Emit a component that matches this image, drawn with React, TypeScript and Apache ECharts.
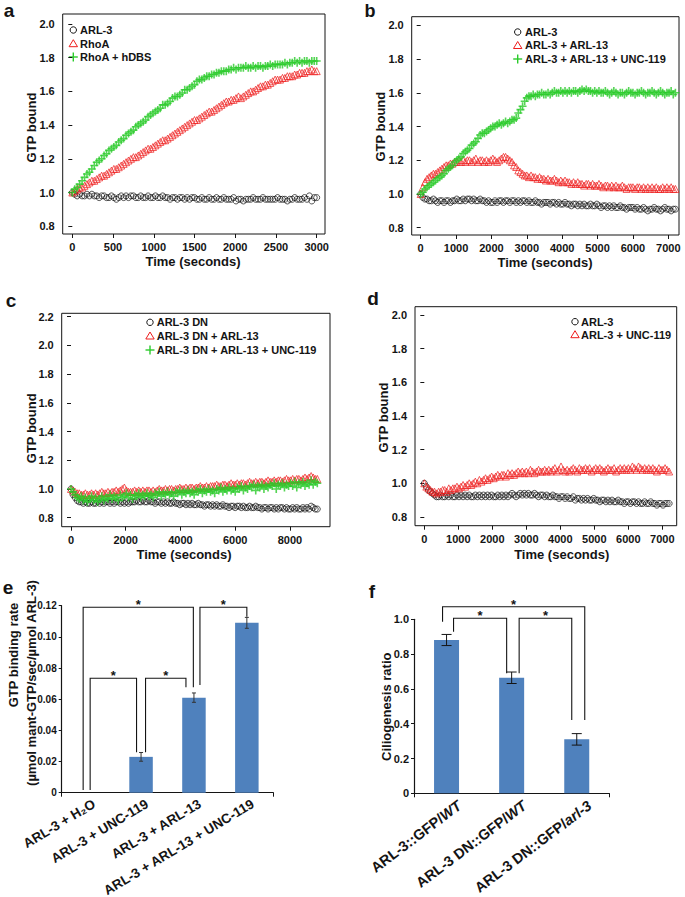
import React, { useEffect, useRef } from 'react';
import * as echarts from 'echarts';

const FONT = '"Liberation Sans", Arial, Helvetica, sans-serif';
const INK = '#141414';
const RED = '#ee1d1d';
const GREEN = '#2bcb2b';
const BAR = '#4f81bd';

// ---------------- panel a ----------------
const aStep = 30; // seconds between readings
const aNames = ['ARL-3', 'RhoA', 'RhoA + hDBS'];
const aArl3 = [
  1.00, 0.99, 0.98, 0.99, 0.98, 0.98, 0.99, 0.98, 0.99, 0.98,
  0.98, 0.97, 0.98, 0.98, 0.97, 0.97, 0.98, 0.97, 0.96, 0.97,
  0.98, 0.97, 0.98, 0.97, 0.98, 0.98, 0.97, 0.97, 0.98, 0.97,
  0.97, 0.98, 0.97, 0.97, 0.98, 0.97, 0.97, 0.98, 0.97, 0.97,
  0.96, 0.97, 0.97, 0.96, 0.97, 0.97, 0.96, 0.97, 0.96, 0.97,
  0.97, 0.96, 0.96, 0.97, 0.96, 0.96, 0.97, 0.96, 0.96, 0.97,
  0.96, 0.96, 0.97, 0.96, 0.96, 0.96, 0.97, 0.95, 0.96, 0.96,
  0.95, 0.96, 0.96, 0.96, 0.97, 0.96, 0.96, 0.96, 0.97, 0.96,
  0.96, 0.96, 0.96, 0.96, 0.97, 0.96, 0.96, 0.96, 0.95, 0.96,
  0.96, 0.97, 0.96, 0.96, 0.96, 0.97, 0.96, 0.98, 0.95, 0.97,
  0.97,
];
const aRhoA = [
  1.00, 1.01, 1.02, 1.03, 1.03, 1.04, 1.05, 1.06, 1.07, 1.07,
  1.08, 1.09, 1.10, 1.10, 1.11, 1.12, 1.13, 1.14, 1.14, 1.15,
  1.16, 1.17, 1.18, 1.19, 1.20, 1.21, 1.21, 1.22, 1.23, 1.24,
  1.25, 1.26, 1.26, 1.27, 1.28, 1.29, 1.30, 1.31, 1.31, 1.32,
  1.33, 1.34, 1.35, 1.36, 1.37, 1.38, 1.39, 1.40, 1.41, 1.42,
  1.43, 1.43, 1.44, 1.45, 1.46, 1.47, 1.48, 1.48, 1.49, 1.50,
  1.51, 1.52, 1.53, 1.54, 1.54, 1.55, 1.55, 1.56, 1.57, 1.56,
  1.57, 1.58, 1.59, 1.60, 1.60, 1.61, 1.62, 1.63, 1.63, 1.64,
  1.64, 1.65, 1.66, 1.67, 1.67, 1.67, 1.68, 1.68, 1.69, 1.69,
  1.69, 1.70, 1.70, 1.71, 1.71, 1.71, 1.72, 1.72, 1.73, 1.72,
  1.72,
];
const aRhoAhDBS = [
  1.00, 1.02, 1.03, 1.05, 1.07, 1.09, 1.11, 1.12, 1.14, 1.16,
  1.18, 1.19, 1.20, 1.22, 1.23, 1.25, 1.26, 1.27, 1.28, 1.30,
  1.31, 1.32, 1.34, 1.35, 1.36, 1.37, 1.39, 1.40, 1.41, 1.42,
  1.43, 1.45, 1.46, 1.47, 1.48, 1.49, 1.50, 1.52, 1.52, 1.53,
  1.54, 1.56, 1.57, 1.57, 1.58, 1.59, 1.61, 1.61, 1.62, 1.63,
  1.64, 1.66, 1.67, 1.67, 1.68, 1.69, 1.69, 1.70, 1.70, 1.71,
  1.71, 1.72, 1.72, 1.72, 1.73, 1.73, 1.74, 1.73, 1.74, 1.74,
  1.74, 1.75, 1.74, 1.74, 1.75, 1.74, 1.75, 1.75, 1.74, 1.75,
  1.75, 1.76, 1.75, 1.76, 1.76, 1.76, 1.76, 1.77, 1.76, 1.77,
  1.77, 1.78, 1.77, 1.78, 1.77, 1.78, 1.78, 1.77, 1.78, 1.78,
  1.78,
];
const aXTicks = [0, 500, 1000, 1500, 2000, 2500, 3000];
const aYTicks = [0.8, 1.0, 1.2, 1.4, 1.6, 1.8, 2.0];

// ---------------- panel b ----------------
const bStep = 60;
const bNames = ['ARL-3', 'ARL-3 + ARL-13', 'ARL-3 + ARL-13 + UNC-119'];
const bArl3 = [
  1.00, 0.98, 0.97, 0.97, 0.96, 0.96, 0.97, 0.96, 0.95, 0.96,
  0.96, 0.95, 0.96, 0.96, 0.95, 0.96, 0.96, 0.97, 0.96, 0.96,
  0.97, 0.96, 0.97, 0.97, 0.96, 0.97, 0.96, 0.96, 0.97, 0.96,
  0.96, 0.95, 0.96, 0.95, 0.95, 0.96, 0.95, 0.96, 0.96, 0.95,
  0.96, 0.96, 0.95, 0.96, 0.96, 0.95, 0.96, 0.95, 0.96, 0.96,
  0.95, 0.96, 0.95, 0.95, 0.96, 0.95, 0.95, 0.94, 0.95, 0.95,
  0.95, 0.94, 0.95, 0.95, 0.94, 0.95, 0.94, 0.94, 0.95, 0.94,
  0.94, 0.93, 0.94, 0.94, 0.93, 0.94, 0.93, 0.94, 0.93, 0.93,
  0.94, 0.93, 0.93, 0.94, 0.93, 0.92, 0.93, 0.93, 0.92, 0.93,
  0.92, 0.93, 0.92, 0.92, 0.93, 0.92, 0.92, 0.91, 0.92, 0.92,
  0.92, 0.91, 0.92, 0.91, 0.91, 0.92, 0.91, 0.90, 0.91, 0.91,
  0.92, 0.91, 0.91, 0.90, 0.91, 0.92, 0.91, 0.91, 0.90, 0.91,
  0.91,
];
const bArl3Arl13 = [
  1.00, 1.04, 1.07, 1.09, 1.10, 1.11, 1.12, 1.12, 1.13, 1.14,
  1.15, 1.16, 1.17, 1.17, 1.18, 1.18, 1.19, 1.19, 1.20, 1.19,
  1.20, 1.19, 1.20, 1.20, 1.19, 1.20, 1.21, 1.19, 1.20, 1.20,
  1.19, 1.20, 1.19, 1.20, 1.21, 1.20, 1.19, 1.20, 1.21, 1.22,
  1.22, 1.21, 1.20, 1.19, 1.17, 1.16, 1.14, 1.13, 1.12, 1.11,
  1.11, 1.10, 1.11, 1.10, 1.10, 1.09, 1.10, 1.09, 1.09, 1.08,
  1.09, 1.08, 1.08, 1.09, 1.08, 1.07, 1.08, 1.07, 1.08, 1.07,
  1.07, 1.06, 1.07, 1.06, 1.07, 1.06, 1.06, 1.05, 1.06, 1.06,
  1.05, 1.06, 1.05, 1.05, 1.06, 1.05, 1.04, 1.05, 1.05, 1.04,
  1.05, 1.04, 1.05, 1.04, 1.04, 1.05, 1.04, 1.03, 1.04, 1.04,
  1.04, 1.03, 1.04, 1.04, 1.03, 1.04, 1.03, 1.04, 1.03, 1.04,
  1.03, 1.04, 1.03, 1.03, 1.04, 1.03, 1.04, 1.03, 1.04, 1.03,
  1.03,
];
const bArl3Arl13Unc119 = [
  1.00, 1.01, 1.03, 1.04, 1.05, 1.06, 1.07, 1.08, 1.09, 1.10,
  1.11, 1.12, 1.14, 1.15, 1.16, 1.17, 1.19, 1.20, 1.21, 1.22,
  1.24, 1.25, 1.26, 1.27, 1.29, 1.30, 1.31, 1.33, 1.35, 1.36,
  1.36, 1.37, 1.38, 1.39, 1.40, 1.40, 1.41, 1.42, 1.41, 1.42,
  1.43, 1.42, 1.43, 1.44, 1.44, 1.45, 1.48, 1.50, 1.52, 1.55,
  1.57, 1.58, 1.58, 1.59, 1.58, 1.59, 1.59, 1.60, 1.59, 1.59,
  1.60, 1.59, 1.60, 1.61, 1.60, 1.60, 1.61, 1.60, 1.61, 1.60,
  1.61, 1.60, 1.61, 1.61, 1.60, 1.61, 1.62, 1.61, 1.62, 1.61,
  1.61, 1.60, 1.61, 1.60, 1.61, 1.60, 1.60, 1.61, 1.60, 1.59,
  1.60, 1.61, 1.60, 1.59, 1.60, 1.60, 1.59, 1.60, 1.61, 1.60,
  1.60, 1.59, 1.60, 1.60, 1.61, 1.60, 1.59, 1.60, 1.60, 1.61,
  1.60, 1.59, 1.60, 1.61, 1.60, 1.59, 1.60, 1.60, 1.61, 1.59,
  1.60,
];
const bXTicks = [0, 1000, 2000, 3000, 4000, 5000, 6000, 7000];
const bYTicks = [0.8, 1.0, 1.2, 1.4, 1.6, 1.8, 2.0];

// ---------------- panel c ----------------
const cStep = 75;
const cNames = ['ARL-3 DN', 'ARL-3 DN + ARL-13', 'ARL-3 DN + ARL-13 + UNC-119'];
const cArl3Dn = [
  1.00, 0.96, 0.94, 0.92, 0.91, 0.91, 0.90, 0.91, 0.90, 0.90,
  0.91, 0.90, 0.90, 0.91, 0.90, 0.91, 0.90, 0.91, 0.91, 0.90,
  0.91, 0.90, 0.91, 0.91, 0.90, 0.91, 0.90, 0.91, 0.90, 0.91,
  0.91, 0.91, 0.92, 0.91, 0.91, 0.92, 0.91, 0.91, 0.92, 0.91,
  0.91, 0.90, 0.91, 0.91, 0.90, 0.91, 0.90, 0.91, 0.90, 0.90,
  0.91, 0.90, 0.90, 0.89, 0.90, 0.90, 0.89, 0.90, 0.89, 0.90,
  0.89, 0.89, 0.90, 0.89, 0.89, 0.88, 0.89, 0.89, 0.88, 0.89,
  0.88, 0.89, 0.88, 0.88, 0.89, 0.88, 0.88, 0.87, 0.88, 0.88,
  0.87, 0.88, 0.88, 0.87, 0.88, 0.87, 0.87, 0.88, 0.87, 0.87,
  0.88, 0.87, 0.87, 0.86, 0.87, 0.87, 0.86, 0.87, 0.87, 0.86,
  0.87, 0.86, 0.87, 0.87, 0.86, 0.87, 0.86, 0.86, 0.87, 0.86,
  0.87, 0.86, 0.86, 0.87, 0.86, 0.87, 0.86, 0.88, 0.87, 0.86,
  0.86,
];
const cArl3DnArl13 = [
  1.00, 0.99, 0.98, 0.97, 0.97, 0.96, 0.96, 0.97, 0.96, 0.96,
  0.97, 0.96, 0.97, 0.96, 0.97, 0.98, 0.97, 0.97, 0.98, 0.97,
  0.98, 0.98, 0.99, 0.98, 0.99, 1.00, 1.01, 0.99, 0.98, 0.98,
  0.98, 0.99, 0.98, 0.99, 0.98, 0.99, 0.98, 0.99, 0.99, 0.98,
  0.99, 0.98, 0.99, 1.00, 0.99, 0.99, 1.00, 0.99, 1.00, 1.00,
  0.99, 1.00, 1.00, 1.01, 1.00, 1.00, 1.01, 1.00, 1.01, 1.01,
  1.00, 1.01, 1.01, 1.02, 1.01, 1.01, 1.02, 1.01, 1.02, 1.02,
  1.02, 1.03, 1.02, 1.02, 1.03, 1.03, 1.02, 1.03, 1.04, 1.03,
  1.03, 1.04, 1.03, 1.04, 1.04, 1.03, 1.04, 1.05, 1.04, 1.04,
  1.05, 1.04, 1.05, 1.05, 1.04, 1.05, 1.06, 1.05, 1.05, 1.06,
  1.05, 1.06, 1.06, 1.05, 1.06, 1.07, 1.06, 1.06, 1.07, 1.06,
  1.07, 1.07, 1.06, 1.07, 1.08, 1.07, 1.08, 1.09, 1.08, 1.07,
  1.07,
];
const cArl3DnArl13Unc119 = [
  1.00, 0.98, 0.96, 0.94, 0.93, 0.95, 0.92, 0.94, 0.91, 0.93,
  0.95, 0.92, 0.94, 0.91, 0.93, 0.95, 0.92, 0.94, 0.93, 0.96,
  0.93, 0.95, 0.94, 0.92, 0.96, 0.94, 0.95, 0.97, 0.94, 0.96,
  0.93, 0.96, 0.95, 0.97, 0.94, 0.96, 0.95, 0.97, 0.95, 0.96,
  0.94, 0.97, 0.96, 0.98, 0.95, 0.97, 0.96, 0.98, 0.96, 0.97,
  0.95, 0.98, 0.97, 0.99, 0.96, 0.98, 0.97, 0.99, 0.97, 0.98,
  0.96, 0.99, 0.98, 1.00, 0.97, 0.99, 0.98, 1.00, 0.98, 0.99,
  0.97, 1.00, 0.99, 1.01, 0.98, 1.00, 0.99, 1.01, 0.99, 1.00,
  0.98, 1.01, 1.00, 1.02, 0.99, 1.01, 1.00, 1.02, 1.01, 1.03,
  0.99, 1.02, 1.01, 1.03, 1.00, 1.02, 1.01, 1.03, 1.02, 1.04,
  1.00, 1.03, 1.02, 1.04, 1.01, 1.03, 1.02, 1.04, 1.02, 1.05,
  1.01, 1.04, 1.03, 1.05, 1.02, 1.04, 1.03, 1.06, 1.03, 1.05,
  1.04,
];
const cXTicks = [0, 2000, 4000, 6000, 8000];
const cYTicks = [0.8, 1.0, 1.2, 1.4, 1.6, 1.8, 2.0, 2.2];

// ---------------- panel d ----------------
const dStep = 60;
const dNames = ['ARL-3', 'ARL-3 + UNC-119'];
const dArl3 = [
  1.00, 0.98, 0.96, 0.95, 0.94, 0.93, 0.92, 0.92, 0.93, 0.92,
  0.92, 0.93, 0.92, 0.93, 0.92, 0.92, 0.93, 0.92, 0.93, 0.92,
  0.93, 0.92, 0.93, 0.92, 0.92, 0.93, 0.92, 0.93, 0.92, 0.93,
  0.92, 0.93, 0.92, 0.93, 0.92, 0.92, 0.93, 0.92, 0.93, 0.92,
  0.93, 0.92, 0.93, 0.94, 0.93, 0.92, 0.93, 0.94, 0.93, 0.94,
  0.93, 0.94, 0.93, 0.93, 0.94, 0.93, 0.92, 0.93, 0.93, 0.92,
  0.93, 0.92, 0.92, 0.93, 0.92, 0.92, 0.91, 0.92, 0.92, 0.91,
  0.92, 0.91, 0.91, 0.92, 0.90, 0.91, 0.91, 0.90, 0.91, 0.90,
  0.91, 0.90, 0.90, 0.91, 0.90, 0.90, 0.89, 0.90, 0.90, 0.89,
  0.90, 0.89, 0.90, 0.89, 0.89, 0.90, 0.89, 0.89, 0.88, 0.89,
  0.89, 0.88, 0.89, 0.89, 0.88, 0.89, 0.88, 0.88, 0.89, 0.88,
  0.88, 0.89, 0.88, 0.88, 0.87, 0.88, 0.88, 0.87, 0.88, 0.88,
  0.88,
];
const dArl3Unc119 = [
  1.00, 0.98, 0.97, 0.96, 0.95, 0.95, 0.94, 0.95, 0.95, 0.96,
  0.96, 0.95, 0.97, 0.96, 0.97, 0.97, 0.98, 0.97, 0.98, 0.99,
  0.98, 0.99, 1.00, 0.99, 1.00, 1.01, 1.00, 1.02, 1.01, 1.02,
  1.03, 1.02, 1.03, 1.04, 1.03, 1.04, 1.05, 1.04, 1.05, 1.05,
  1.04, 1.06, 1.05, 1.06, 1.05, 1.06, 1.07, 1.06, 1.07, 1.06,
  1.07, 1.06, 1.08, 1.07, 1.06, 1.07, 1.08, 1.07, 1.07, 1.08,
  1.07, 1.08, 1.07, 1.08, 1.09, 1.07, 1.08, 1.10, 1.08, 1.07,
  1.08, 1.07, 1.08, 1.09, 1.08, 1.07, 1.09, 1.08, 1.08, 1.09,
  1.08, 1.09, 1.07, 1.08, 1.09, 1.08, 1.09, 1.08, 1.07, 1.08,
  1.09, 1.08, 1.08, 1.09, 1.07, 1.08, 1.09, 1.08, 1.09, 1.08,
  1.09, 1.08, 1.10, 1.09, 1.08, 1.10, 1.09, 1.08, 1.09, 1.08,
  1.09, 1.08, 1.09, 1.08, 1.07, 1.09, 1.08, 1.08, 1.09, 1.08,
  1.07,
];
const dXTicks = [0, 1000, 2000, 3000, 4000, 5000, 6000, 7000];
const dYTicks = [0.8, 1.0, 1.2, 1.4, 1.6, 1.8, 2.0];

// ---------------- panel e ----------------
const eCategories = ['ARL-3 + H₂O', 'ARL-3 + UNC-119', 'ARL-3 + ARL-13', 'ARL-3 + ARL-13 + UNC-119'];
const eValues = [0, 0.023, 0.061, 0.109];
const eErrors = [0, 0.0028, 0.003, 0.0035];
// significance brackets: [from category, to category, bracket level, end of left leg, end of right leg]
const eBrackets = [
  [0, 2, 0.119, 0.0017, 0.0676],
  [2, 3, 0.119, 0.0691, 0.1129],
  [0, 1, 0.0734, 0.0017, 0.0259],
  [1, 2, 0.0734, 0.0259, 0.0676],
];
const eYMax = 0.12;

// ---------------- panel f ----------------
const fCategories = ['ARL-3::GFP/WT', 'ARL-3 DN::GFP/WT', 'ARL-3 DN::GFP/arl-3'];
const fValues = [0.881, 0.664, 0.31];
const fErrors = [0.032, 0.033, 0.033];
const fBrackets = [
  [0, 2, 1.072, 0.986, 0.421],
  [0, 1, 1.006, 0.929, 0.69],
  [1, 2, 1.006, 0.69, 0.421],
];

// ---------------- layout / style (pixels) ----------------
const eLegOffsets = [[-5, -0.6], [6, 0], [2, -4.5], [4.5, -8]];
const fLegOffsets = [[-4, 8], [7, -5], [7.5, -5]];

const toXY = (vals: number[], step: number) => vals.map((v, i) => [i * step, v]);

const circleSeries = (name: string, data: number[][], idx: number) => ({
  type: 'scatter', name, xAxisIndex: idx, yAxisIndex: idx, data, silent: true,
  symbol: 'circle', symbolSize: 6,
  itemStyle: { color: 'rgba(0,0,0,0)', borderColor: INK, borderWidth: 0.9 },
});
const triSeries = (name: string, data: number[][], idx: number) => ({
  type: 'scatter', name, xAxisIndex: idx, yAxisIndex: idx, data, silent: true,
  symbol: 'triangle', symbolSize: 7,
  itemStyle: { color: 'rgba(0,0,0,0)', borderColor: RED, borderWidth: 0.9 },
});
const plusSeries = (name: string, data: number[][], idx: number) => ({
  type: 'scatter', name, xAxisIndex: idx, yAxisIndex: idx, data, silent: true,
  symbol: 'path://M4,0H6V4H10V6H6V10H4V6H0V4H4Z', symbolSize: 8,
  itemStyle: { color: GREEN },
});

const tickLabelStyle = { fontSize: 11, fontWeight: 'bold', color: INK, fontFamily: FONT };

const lineX = (gridIndex: number, min: number, max: number, ticks: number[]) => ({
  type: 'value', gridIndex, min, max,
  axisLine: { show: false },
  axisTick: { show: true, customValues: ticks, length: 4, lineStyle: { color: INK, width: 1 } },
  axisLabel: { show: true, customValues: ticks, margin: 7.5, formatter: (v: number) => String(v), ...tickLabelStyle },
  splitLine: { show: false },
});
const lineY = (gridIndex: number, min: number, max: number, ticks: number[]) => ({
  type: 'value', gridIndex, min, max,
  axisLine: { show: false },
  axisTick: { show: true, customValues: ticks, length: 4, lineStyle: { color: INK, width: 1 } },
  axisLabel: { show: true, customValues: ticks, margin: 8, formatter: (v: number) => v.toFixed(1), ...tickLabelStyle },
  splitLine: { show: false },
});

const errorSeries = (idx: number, vals: number[], errs: number[], cap: number, color: string) => ({
  type: 'custom', xAxisIndex: idx, yAxisIndex: idx, silent: true, clip: false, z: 5,
  encode: { x: 0, y: 1 },
  data: vals.map((v, i) => [i, v, errs[i]]),
  renderItem: (_p: any, api: any) => {
    const i = api.value(0), v = api.value(1), e = api.value(2);
    if (!e) return null;
    const hi = api.coord([i, v + e]);
    const lo = api.coord([i, v - e]);
    const st = { stroke: color, lineWidth: 1 };
    return {
      type: 'group', children: [
        { type: 'line', shape: { x1: hi[0], y1: hi[1], x2: lo[0], y2: lo[1] }, style: st },
        { type: 'line', shape: { x1: hi[0] - cap, y1: hi[1], x2: hi[0] + cap, y2: hi[1] }, style: st },
        { type: 'line', shape: { x1: lo[0] - cap, y1: lo[1], x2: lo[0] + cap, y2: lo[1] }, style: st },
      ],
    };
  },
});

const bracketSeries = (idx: number, brackets: number[][], offsets: number[][]) => ({
  type: 'custom', xAxisIndex: idx, yAxisIndex: idx, silent: true, clip: false, z: 6,
  encode: { x: 0, y: 2 },
  data: brackets,
  renderItem: (p: any, api: any) => {
    const off = offsets[p.dataIndex];
    const from = api.value(0), to = api.value(1), top = api.value(2), e1 = api.value(3), e2 = api.value(4);
    const t1 = api.coord([from, top]);
    const b1 = api.coord([from, e1]);
    const t2 = api.coord([to, top]);
    const b2 = api.coord([to, e2]);
    const x1 = t1[0] + off[0];
    const x2 = t2[0] + off[1];
    return {
      type: 'group', children: [
        { type: 'polyline', shape: { points: [[x1, b1[1]], [x1, t1[1]], [x2, t2[1]], [x2, b2[1]]] }, style: { stroke: INK, lineWidth: 1.1, fill: null } },
        { type: 'text', x: (x1 + x2) / 2, y: t1[1] - 2.5, style: { text: '*', align: 'center', verticalAlign: 'middle', font: `bold 13px ${FONT}`, fill: INK } },
      ],
    };
  },
});

// rotated category labels, placed at each category through the axis scale
const catLabelSeries = (idx: number, cats: string[], fmt: (s: string) => string, rich: any, size: number, deg: number, dx: number, dy: number) => ({
  type: 'custom', xAxisIndex: idx, yAxisIndex: idx, silent: true, clip: false, z: 7,
  encode: { x: 0, y: 1 },
  data: cats.map((_c, i) => [i, 0]),
  renderItem: (p: any, api: any) => {
    const pt = api.coord([api.value(0), 0]);
    return {
      type: 'text', x: pt[0] + dx, y: pt[1] + dy, rotation: (deg * Math.PI) / 180,
      style: { text: fmt(cats[p.dataIndex]), rich, font: `bold ${size}px ${FONT}`, fill: INK, align: 'right', verticalAlign: 'middle' },
    };
  },
});

const txt = (x: number, y: number, text: string, size: number, rot = 0, align = 'center') => ({
  type: 'text', x, y, rotation: rot, silent: true,
  style: { text, font: `bold ${size}px ${FONT}`, fill: INK, align, verticalAlign: 'middle' },
});
const mkCircle = (x: number, y: number) => ({ type: 'circle', shape: { cx: x, cy: y, r: 3.2 }, style: { fill: 'none', stroke: INK, lineWidth: 1 } });
const mkTri = (x: number, y: number) => ({ type: 'polygon', shape: { points: [[x, y - 3.8], [x + 4.2, y + 3.2], [x - 4.2, y + 3.2]] }, style: { fill: 'none', stroke: RED, lineWidth: 1 } });
const mkPlus = (x: number, y: number) => ({
  type: 'group', children: [
    { type: 'line', shape: { x1: x - 4.5, y1: y, x2: x + 4.5, y2: y }, style: { stroke: GREEN, lineWidth: 1.4 } },
    { type: 'line', shape: { x1: x, y1: y - 4.5, x2: x, y2: y + 4.5 }, style: { stroke: GREEN, lineWidth: 1.4 } },
  ],
});
const legend = (names: string[], mx: number, tx: number, ys: number[]) => {
  const makers = [mkCircle, mkTri, mkPlus];
  const out: any[] = [];
  names.forEach((n, i) => {
    out.push(makers[i](mx, ys[i]));
    out.push(txt(tx, ys[i], n, 11, 0, 'left'));
  });
  return out;
};

function buildOption() {
  const frame = { show: true, borderColor: INK, borderWidth: 1, backgroundColor: 'transparent', containLabel: false, outerBoundsMode: 'none' };
  const plain = { show: false, containLabel: false, outerBoundsMode: 'none' };
  const grid = [
    { ...frame, left: 62.7, top: 14, width: 262.3, height: 220 },
    { ...frame, left: 411.7, top: 16.7, width: 267.3, height: 218.3 },
    { ...frame, left: 61.7, top: 313.3, width: 268.3, height: 213.4 },
    { ...frame, left: 415, top: 306.7, width: 261.7, height: 219 },
    { ...plain, left: 61.7, top: 605.7, width: 211.6, height: 187 },
    { ...plain, left: 414, top: 619.3, width: 195.3, height: 174 },
  ];

  const catAxis = (gridIndex: number, data: string[]) => ({
    type: 'category', gridIndex, data,
    axisLine: { show: true, lineStyle: { color: INK, width: 1.2 } },
    axisTick: { show: true, length: 4, alignWithLabel: false, lineStyle: { color: INK } },
    axisLabel: { show: false },
    splitLine: { show: false },
  });

  const xAxis: any[] = [
    lineX(0, -118, 3102, aXTicks),
    lineX(1, -254, 7302, bXTicks),
    lineX(2, -340, 9464, cXTicks),
    lineX(3, -274, 7422, dXTicks),
    catAxis(4, eCategories),
    catAxis(5, fCategories),
  ];

  const yAxis: any[] = [
    lineY(0, 0.754, 2.059, aYTicks),
    lineY(1, 0.757, 2.051, bYTicks),
    lineY(2, 0.737, 2.224, cYTicks),
    lineY(3, 0.748, 2.049, dYTicks),
    {
      type: 'value', gridIndex: 4, min: 0, max: eYMax, interval: 0.02,
      axisLine: { show: true, lineStyle: { color: INK, width: 1.2 } },
      axisTick: { show: true, length: 3, lineStyle: { color: INK } },
      axisLabel: { margin: 5, formatter: (v: number) => (v === 0 ? '0' : v.toFixed(2)), fontSize: 10, fontWeight: 'bold', color: INK, fontFamily: FONT },
      splitLine: { show: false },
    },
    {
      type: 'value', gridIndex: 5, min: 0, max: 1.0, interval: 0.2,
      axisLine: { show: true, lineStyle: { color: INK, width: 1.2 } },
      axisTick: { show: true, length: 3, lineStyle: { color: INK } },
      axisLabel: { margin: 5, formatter: (v: number) => (v === 0 ? '0' : v.toFixed(1)), fontSize: 11, fontWeight: 'bold', color: INK, fontFamily: FONT },
      splitLine: { show: false },
    },
  ];

  const fRich = {
    n: { fontSize: 14.5, fontWeight: 'bold', fontFamily: FONT, color: INK },
    i: { fontSize: 14.5, fontWeight: 'bold', fontStyle: 'italic', fontFamily: FONT, color: INK },
  };
  const fFmt = (v: string) => {
    const k = v.lastIndexOf('/');
    return `{n|${v.slice(0, k + 1)}}{i|${v.slice(k + 1)}}`;
  };

  const series: any[] = [
    circleSeries(aNames[0], toXY(aArl3, aStep), 0),
    triSeries(aNames[1], toXY(aRhoA, aStep), 0),
    plusSeries(aNames[2], toXY(aRhoAhDBS, aStep), 0),

    circleSeries(bNames[0], toXY(bArl3, bStep), 1),
    triSeries(bNames[1], toXY(bArl3Arl13, bStep), 1),
    plusSeries(bNames[2], toXY(bArl3Arl13Unc119, bStep), 1),

    circleSeries(cNames[0], toXY(cArl3Dn, cStep), 2),
    triSeries(cNames[1], toXY(cArl3DnArl13, cStep), 2),
    plusSeries(cNames[2], toXY(cArl3DnArl13Unc119, cStep), 2),

    circleSeries(dNames[0], toXY(dArl3, dStep), 3),
    triSeries(dNames[1], toXY(dArl3Unc119, dStep), 3),

    { type: 'bar', name: 'GTP binding rate', xAxisIndex: 4, yAxisIndex: 4, data: eValues, barWidth: 23.5, itemStyle: { color: BAR }, silent: true },
    errorSeries(4, eValues, eErrors, 2, '#333'),
    bracketSeries(4, eBrackets, eLegOffsets),
    catLabelSeries(4, eCategories, (s) => s, undefined, 13.5, 31, 6, 10),

    { type: 'bar', name: 'Ciliogenesis ratio', xAxisIndex: 5, yAxisIndex: 5, data: fValues, barWidth: 25, itemStyle: { color: BAR }, silent: true },
    errorSeries(5, fValues, fErrors, 5, INK),
    bracketSeries(5, fBrackets, fLegOffsets),
    catLabelSeries(5, fCategories, fFmt, fRich, 14.5, 37, 13, 10.5),
  ];

  const elements: any[] = [
    txt(9, 10, 'a', 19), txt(370, 10.5, 'b', 18), txt(11, 300.5, 'c', 19),
    txt(373, 298, 'd', 19), txt(8, 587, 'e', 19), txt(372, 591.5, 'f', 19),
    txt(31.7, 127.5, 'GTP bound', 13, Math.PI / 2),
    txt(380, 126.7, 'GTP bound', 13, Math.PI / 2),
    txt(31.7, 428.3, 'GTP bound', 13, Math.PI / 2),
    txt(383.3, 417.5, 'GTP bound', 13, Math.PI / 2),
    txt(193, 261, 'Time (seconds)', 13),
    txt(545, 262, 'Time (seconds)', 13),
    txt(184, 554.3, 'Time (seconds)', 13),
    txt(561.7, 554, 'Time (seconds)', 13),
    txt(13.3, 655, 'GTP binding rate', 13, Math.PI / 2),
    txt(31.5, 683, '(µmol mant-GTP/sec/µmol ARL-3)', 13, Math.PI / 2),
    txt(386, 706.7, 'Ciliogenesis ratio', 13, Math.PI / 2),
    ...legend(aNames, 73.3, 80, [30, 43.5, 57]),
    ...legend(bNames, 517.7, 525, [32, 45.3, 59]),
    ...legend(cNames, 150, 156.7, [322.3, 335.8, 350]),
    ...legend(dNames, 575, 581, [321.7, 334.5]),
  ];

  return {
    animation: false,
    backgroundColor: '#ffffff',
    textStyle: { fontFamily: FONT },
    grid, xAxis, yAxis, series,
    graphic: { elements },
  };
}

export default function App() {
  const ref = useRef<HTMLDivElement>(null);
  useEffect(() => {
    if (!ref.current) return;
    const chart = echarts.init(ref.current, null, { renderer: 'svg' });
    chart.setOption(buildOption() as any);
    return () => chart.dispose();
  }, []);
  return (
    <div
      ref={ref}
      style={{ position: 'absolute', left: 0, top: 0, width: 685, height: 897, background: '#fff' }}
    />
  );
}
